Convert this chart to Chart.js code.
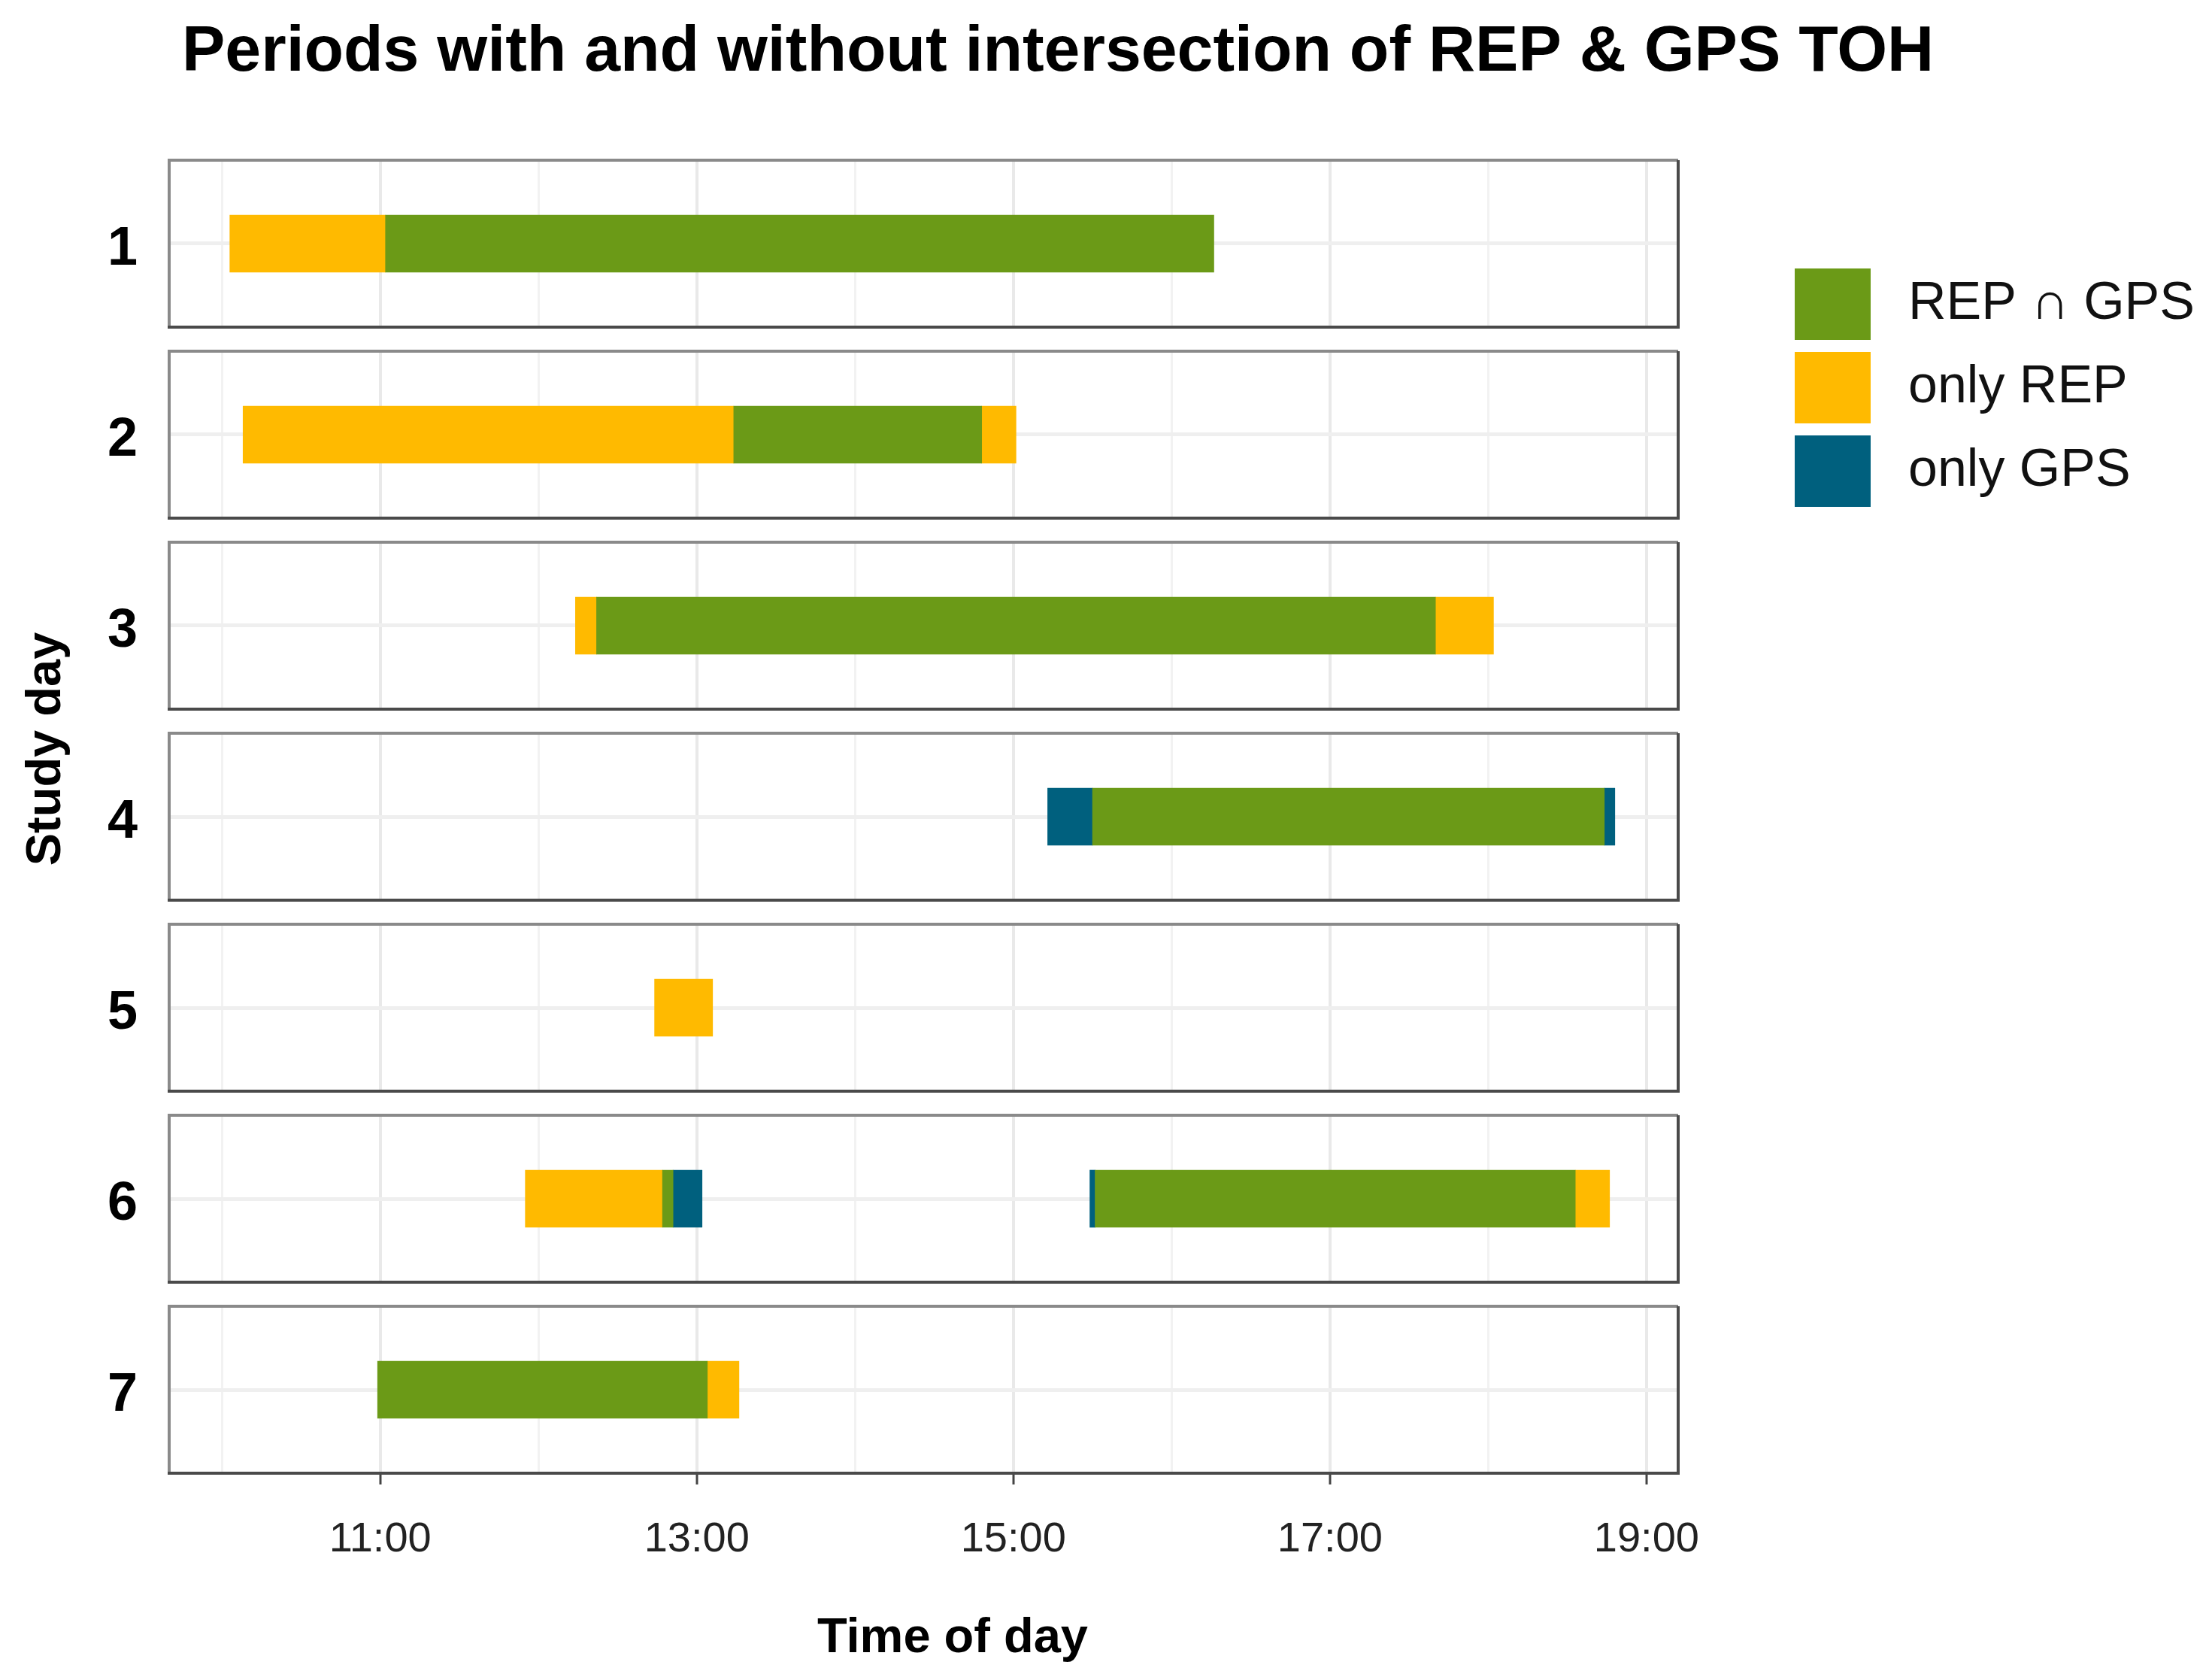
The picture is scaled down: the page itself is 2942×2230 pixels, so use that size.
<!DOCTYPE html>
<html>
<head>
<meta charset="utf-8">
<title>Periods with and without intersection of REP & GPS TOH</title>
<script src="https://cdn.jsdelivr.net/npm/chart.js@4.4.1/dist/chart.umd.min.js"></script>
<style>
  html, body { margin: 0; padding: 0; background: #fff; }
  #chart { display: block; }
</style>
</head>
<body>
<canvas id="chart" width="2942" height="2230" style="width:2942px;height:2230px"></canvas>
<script>
/* --------- データ --------- */
// study days (one facet panel each)
const days = ["1", "2", "3", "4", "5", "6", "7"];

// [day, start, end]
const bothPeriods = [
  [1, "11:02", "16:16"],
  [2, "13:14", "14:48"],
  [3, "12:22", "17:40"],
  [4, "15:30", "18:44"],
  [6, "12:47", "12:51"],
  [6, "15:31", "18:33"],
  [7, "10:59", "13:04"],
];
const onlyRepPeriods = [
  [1, "10:03", "11:02"],
  [2, "10:08", "13:14"],
  [2, "14:48", "15:01"],
  [3, "12:14", "12:22"],
  [3, "17:40", "18:02"],
  [5, "12:44", "13:06"],
  [6, "11:55", "12:47"],
  [6, "18:33", "18:46"],
  [7, "13:04", "13:16"],
];
const onlyGpsPeriods = [
  [4, "15:13", "15:30"],
  [4, "18:44", "18:48"],
  [6, "12:51", "13:02"],
  [6, "15:29", "15:31"],
];

const seriesNames = ["REP \u2229 GPS", "only REP", "only GPS"];

// x axis
const timeRange = ["09:40", "19:12"];
const hourTicks = [10, 11, 12, 13, 14, 15, 16, 17, 18, 19];
const labelledHours = [11, 13, 15, 17, 19];

/* --------- スタイル --------- */
const seriesColors = ["#6b9a17", "#ffba00", "#00607e"];
const FONT = "'Liberation Sans', Arial, sans-serif";
const PANEL_HALF = 0.437; // half panel height in day units

/* --------- ヘルパ --------- */
function toHours(t) {
  const [h, m] = t.split(":").map(Number);
  return h + m / 60;
}

function toBars(periods) {
  return periods.map(([d, s, e]) => ({ y: d, x: [toHours(s), toHours(e)] }));
}

function makeDataset(i, periods) {
  return {
    label: seriesNames[i],
    data: toBars(periods),
    backgroundColor: seriesColors[i],
    borderWidth: 0,
    grouped: false,
    barThickness: 76,
  };
}

/* --------- パネル・タイトル・凡例 --------- */
const facetPlugin = {
  id: "facets",
  beforeDatasetsDraw(chart) {
    // white strips between the panels
    const { ctx, chartArea: a, scales: { y } } = chart;
    ctx.save();
    ctx.fillStyle = "#fff";
    for (let d = 1; d < days.length; d++) {
      const b = y.getPixelForValue(d + PANEL_HALF);
      const t = y.getPixelForValue(d + 1 - PANEL_HALF);
      ctx.fillRect(a.left - 2, b, a.right - a.left + 4, t - b);
    }
    ctx.restore();
  },
  afterDatasetsDraw(chart) {
    const { ctx, chartArea: a, scales: { y } } = chart;
    ctx.save();
    days.forEach((_, i) => {
      const t = y.getPixelForValue(i + 1 - PANEL_HALF);
      const b = y.getPixelForValue(i + 1 + PANEL_HALF);
      ctx.lineWidth = 4;
      ctx.strokeStyle = "#8a8a8a";
      ctx.beginPath();
      ctx.moveTo(a.left, b);
      ctx.lineTo(a.left, t);
      ctx.lineTo(a.right, t);
      ctx.stroke();
      ctx.strokeStyle = "#4a4a4a";
      ctx.beginPath();
      ctx.moveTo(a.right, t);
      ctx.lineTo(a.right, b);
      ctx.lineTo(a.left - 2, b);
      ctx.stroke();
    });
    ctx.restore();
  },
  afterDraw(chart) {
    const { ctx } = chart;
    ctx.save();
    ctx.fillStyle = "#000";

    // title
    ctx.font = `bold 86px ${FONT}`;
    ctx.textAlign = "left";
    ctx.textBaseline = "alphabetic";
    ctx.fillText("Periods with and without intersection of REP & GPS TOH", 242, 94);

    // axis titles
    ctx.font = `bold 65px ${FONT}`;
    ctx.textAlign = "center";
    ctx.fillText("Time of day", 1267, 2197);
    ctx.translate(80, 996);
    ctx.rotate(-Math.PI / 2);
    ctx.fillText("Study day", 0, 0);
    ctx.setTransform(1, 0, 0, 1, 0, 0);

    // legend
    ctx.font = `70px ${FONT}`;
    ctx.textAlign = "left";
    ctx.textBaseline = "middle";
    chart.data.datasets.forEach((ds, i) => {
      const top = 357 + i * 111;
      ctx.fillStyle = ds.backgroundColor;
      ctx.fillRect(2387, top, 101, 95);
      ctx.fillStyle = "#111";
      ctx.fillText(ds.label, 2538, top + 48);
    });
    ctx.restore();
  },
};

/* --------- グラフ --------- */
new Chart(document.getElementById("chart"), {
  type: "bar",
  data: {
    datasets: [
      makeDataset(0, bothPeriods),
      makeDataset(1, onlyRepPeriods),
      makeDataset(2, onlyGpsPeriods),
    ],
  },
  options: {
    indexAxis: "y",
    responsive: false,
    devicePixelRatio: 1,
    animation: false,
    layout: { padding: { top: 213, right: 710, left: 0, bottom: 0 } },
    plugins: { legend: { display: false }, title: { display: false }, tooltip: { enabled: false } },
    scales: {
      x: {
        type: "linear",
        offset: false,
        min: toHours(timeRange[0]),
        max: toHours(timeRange[1]),
        afterBuildTicks: (s) => { s.ticks = hourTicks.map((h) => ({ value: h })); },
        afterFit: (s) => { s.height = 271; },
        border: { display: false },
        grid: {
          offset: false,
          color: (c) => (labelledHours.includes(c.tick.value) ? "#e9e9e9" : "#f2f2f2"),
          lineWidth: (c) => (labelledHours.includes(c.tick.value) ? 4 : 3),
          tickColor: (c) => (labelledHours.includes(c.tick.value) ? "#444" : "rgba(0,0,0,0)"),
          tickLength: 15,
          tickWidth: 3,
        },
        ticks: {
          autoSkip: false,
          maxRotation: 0,
          padding: 40,
          color: "#222",
          font: { family: FONT, size: 56 },
          callback: (v) => (labelledHours.includes(v) ? `${v}:00` : ""),
        },
      },
      y: {
        type: "linear",
        offset: false,
        reverse: true,
        min: 1 - PANEL_HALF,
        max: days.length + PANEL_HALF,
        afterBuildTicks: (s) => { s.ticks = days.map((_, i) => ({ value: i + 1 })); },
        afterFit: (s) => { s.width = 225; },
        border: { display: false },
        grid: { offset: false, color: "#efefef", lineWidth: 5, drawTicks: false },
        ticks: {
          padding: 42,
          labelOffset: 8,
          color: "#000",
          font: { family: FONT, size: 72, weight: "bold" },
          callback: (v) => days[v - 1],
        },
      },
    },
  },
  plugins: [facetPlugin],
});
</script>
</body>
</html>
